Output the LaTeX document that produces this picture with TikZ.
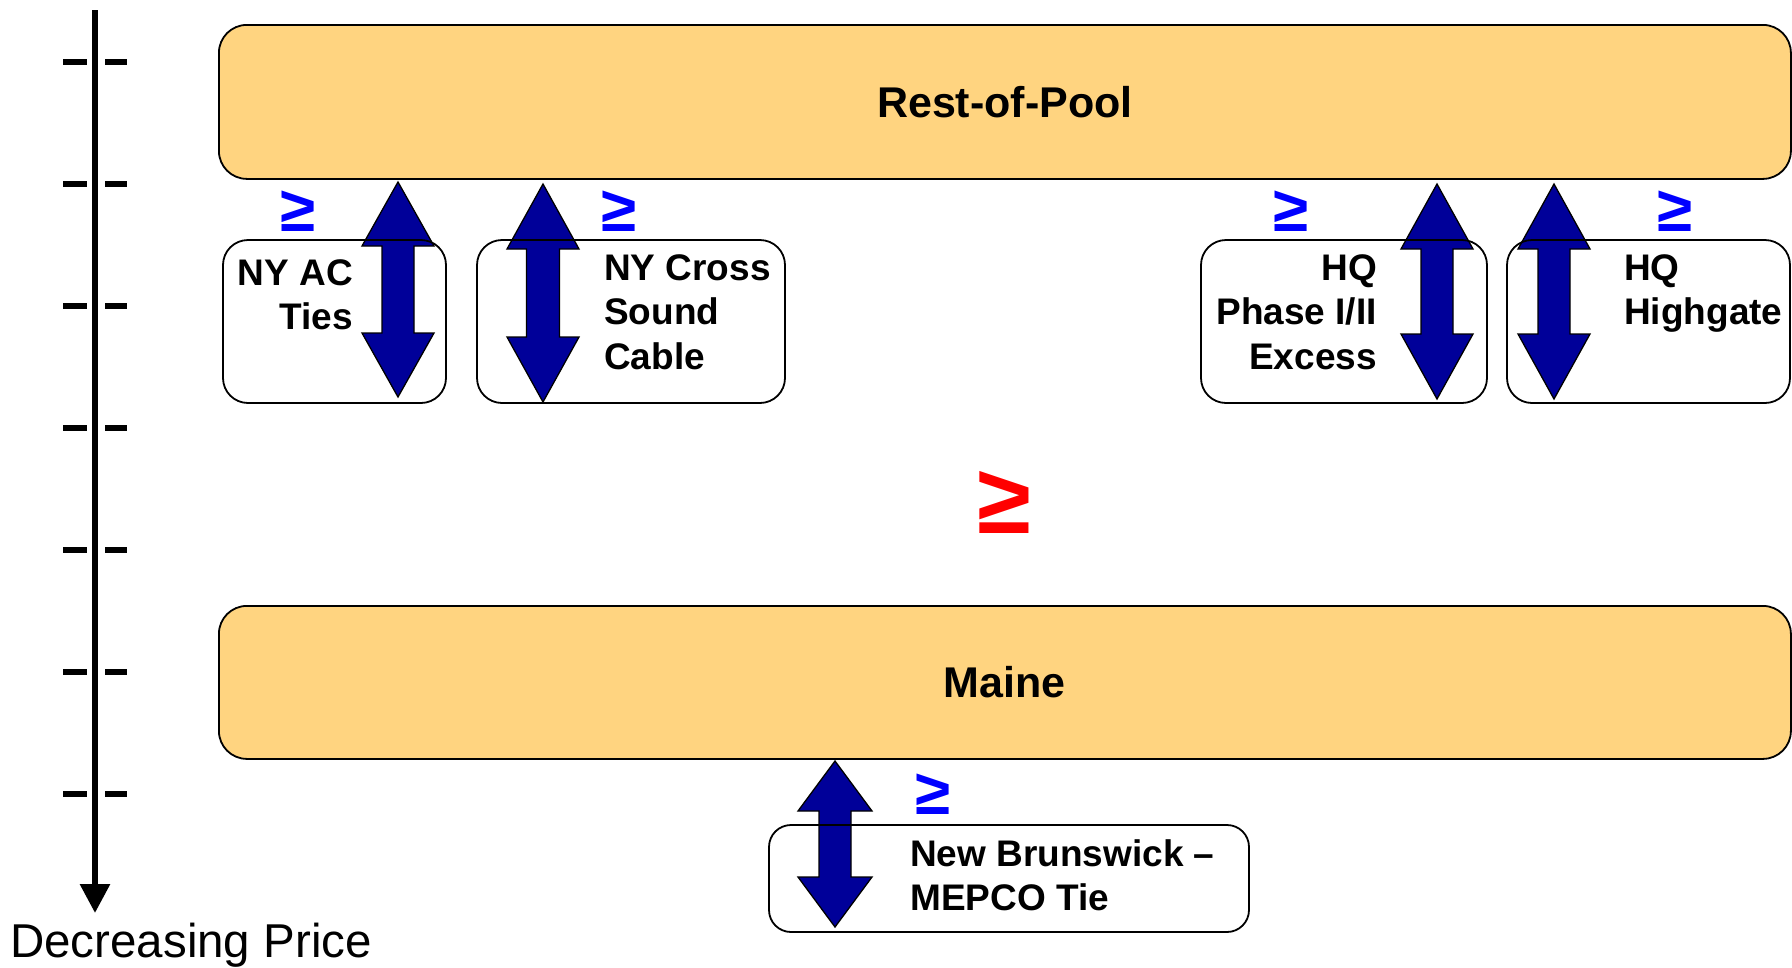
\documentclass[tikz,border=0pt]{standalone}
\usepackage{fontspec}
\setmainfont{Liberation Sans}
\usetikzlibrary{arrows.meta}
\definecolor{poolfill}{RGB}{255,212,128}
\definecolor{arrowblue}{RGB}{0,0,153}
\definecolor{geblue}{RGB}{0,0,255}
\definecolor{gered}{RGB}{255,0,0}
\newcommand\blockarrow[6]{%
  \filldraw[blockarr] (#1,#2) -- ({#1+#5},{#2+#4}) -- ({#1+#6},{#2+#4}) -- ({#1+#6},{#3-#4}) -- ({#1+#5},{#3-#4}) -- (#1,#3) -- ({#1-#5},{#3-#4}) -- ({#1-#6},{#3-#4}) -- ({#1-#6},{#2+#4}) -- ({#1-#5},{#2+#4}) -- cycle;}
\begin{document}
\begin{tikzpicture}[x=1pt,y=-1pt,
  pool/.style={draw=black, line width=1.8pt, fill=poolfill, rounded corners=28pt, anchor=north west, inner sep=0pt, font=\bfseries\fontsize{43}{50}\selectfont},
  tiebox/.style={draw=black, line width=1.8pt, rounded corners=25pt},
  tietext/.style={font=\bfseries\fontsize{37}{44.5}\selectfont, inner sep=0pt},
  blockarr/.style={fill=arrowblue, draw=black, line width=1.3pt, line join=miter},
  gesign/.style={text=geblue, font=\bfseries\fontsize{64}{64}\selectfont, inner sep=0pt},
  bigge/.style={text=gered, font=\bfseries\fontsize{98}{98}\selectfont, inner sep=0pt},
  tick/.style={line width=5.5pt},
  axis/.style={line width=6pt, -{Triangle[length=29pt,width=29pt]}}]
\useasboundingbox (0,0) rectangle (1792,967);
% axis
\coordinate (axtop) at (95,10);
\coordinate (axend) at (95,913);
\draw[axis] (axtop) -- (axend);
\foreach \yy in {62,184,306,428,550,672,794}{
  \draw[tick] (63,\yy) -- (87,\yy);
  \draw[tick] (105,\yy) -- (127,\yy);
}
\node[anchor=base west, inner sep=0pt, font=\fontsize{47.5}{50}\selectfont] (axlabel) at (10,957) {Decreasing Price};
% pools
\node[pool, minimum width=1572pt, minimum height=154pt] (rest) at (218,24) {Rest-of-Pool};
\node[pool, minimum width=1572pt, minimum height=153pt] (maine) at (218,605) {Maine};
% block arrows
\blockarrow{398}{182}{397}{64}{36}{16}
\blockarrow{543}{184}{402}{65}{36}{16.5}
\blockarrow{1437}{184}{399}{65}{36}{16}
\blockarrow{1554}{184}{399}{65}{36}{16}
\blockarrow{835}{761}{927}{50}{37}{16}
% tie boxes
\draw[tiebox] (223,240) rectangle (446,403);
\draw[tiebox] (477,240) rectangle (785,403);
\draw[tiebox] (1201,240) rectangle (1487,403);
\draw[tiebox] (1507,240) rectangle (1790,403);
\draw[tiebox, rounded corners=22pt] (769,825) rectangle (1249,932);
% tie texts
\node[tietext, align=right, anchor=north east] (nyac) at (353,259) {NY AC\\Ties};
\node[tietext, align=left, anchor=north west] (nycs) at (604,254) {NY Cross\\Sound\\Cable};
\node[tietext, align=right, anchor=north east] (hqph) at (1377,254) {HQ\\Phase I/II\\Excess};
\node[tietext, align=left, anchor=north west] (hqhg) at (1624,254) {HQ\\Highgate};
\node[tietext, align=left, anchor=north west] (nbmep) at (910,839) {New Brunswick –\\MEPCO Tie};
% >= signs
\node[gesign] (ge1) at (298,211) {≥};
\node[gesign] (ge2) at (619,211) {≥};
\node[gesign] (ge3) at (1291,211) {≥};
\node[gesign] (ge4) at (1675,211) {≥};
\node[gesign] (ge5) at (933,794) {≥};
\node[bigge] (ge6) at (1004,502) {≥};
\end{tikzpicture}
\end{document}
